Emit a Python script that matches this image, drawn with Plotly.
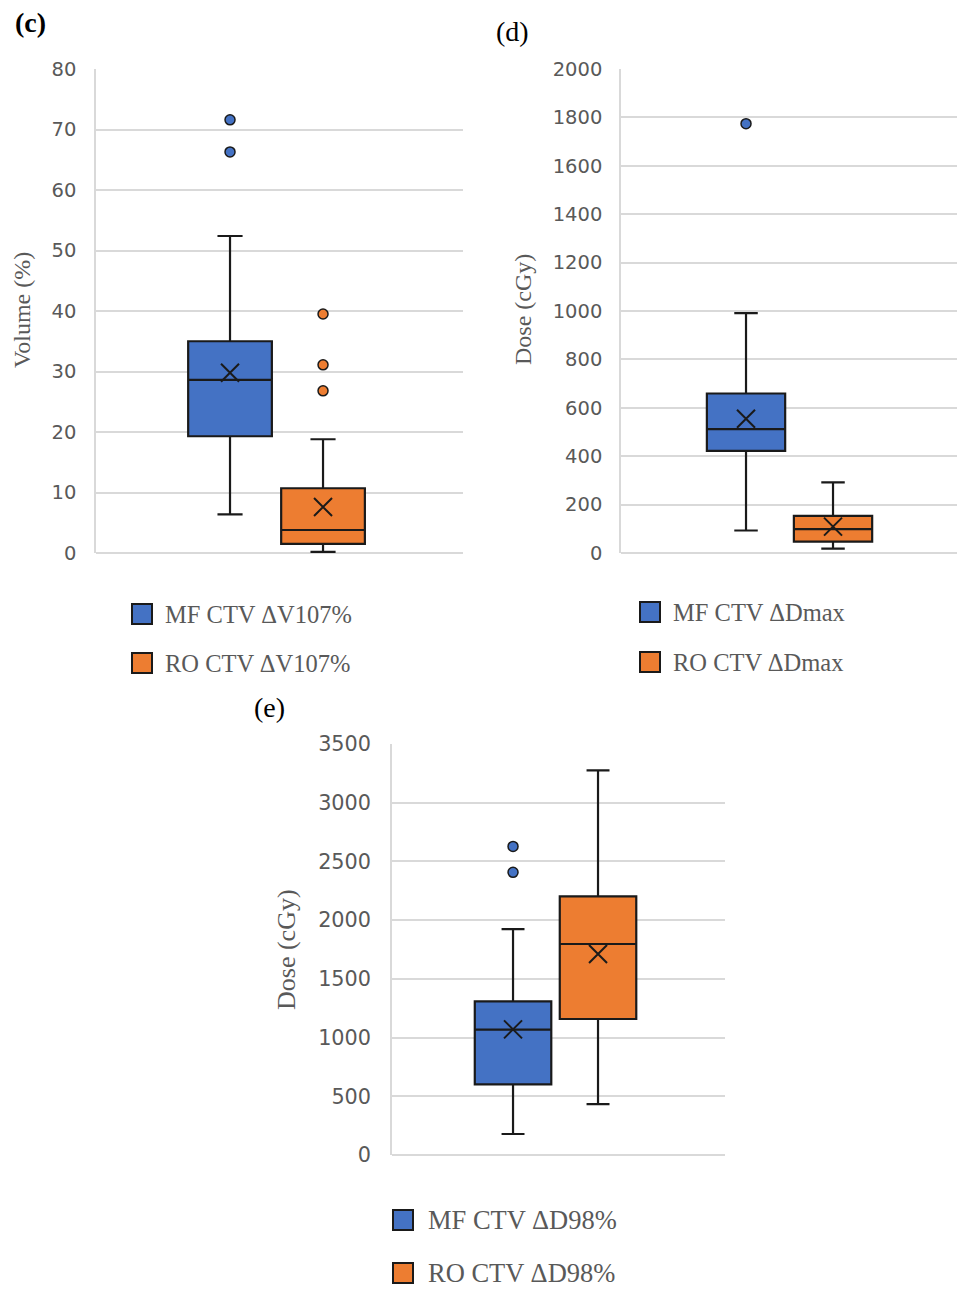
import plotly.graph_objects as go

# ---- data -----------------------------------------------------------------
series_names = ["MF", "RO"]
fill_colors = ["#4472C4", "#ED7D31"]
edge_color = "#1a1a1a"

# (c) CTV ΔV107% (Volume %)
c_q1 = [19.3, 1.5]
c_median = [28.6, 3.8]
c_q3 = [35.0, 10.7]
c_low = [6.4, 0.2]
c_high = [52.4, 18.8]
c_mean = [29.8, 7.6]
c_outliers_mf = [71.6, 66.3]
c_outliers_ro = [39.5, 31.1, 26.8]
c_labels = ["MF CTV ΔV107%", "RO CTV ΔV107%"]

# (d) CTV ΔDmax (Dose cGy)
d_q1 = [422, 47]
d_median = [512, 99]
d_q3 = [659, 153]
d_low = [93, 18]
d_high = [991, 292]
d_mean = [555, 109]
d_outliers_mf = [1774]
d_outliers_ro = []
d_labels = ["MF CTV ΔDmax", "RO CTV ΔDmax"]

# (e) CTV ΔD98% (Dose cGy)
e_q1 = [602, 1158]
e_median = [1067, 1797]
e_q3 = [1309, 2203]
e_low = [179, 434]
e_high = [1924, 3276]
e_mean = [1070, 1712]
e_outliers_mf = [2628, 2407]
e_outliers_ro = []
e_labels = ["MF CTV ΔD98%", "RO CTV ΔD98%"]

# ---- figure ---------------------------------------------------------------
W, H = 957, 1289
fig = go.Figure()

GRID = "#d9d9d9"
TICK_FONT = "DejaVu Sans"
SERIF = "Liberation Serif"
TEXT_GRAY = "#595959"


def px_x(p):
    return p / W


def px_y(p):
    return 1 - p / H


def add_panel(xname, yname, q1, med, q3, low, high, mean, outliers):
    for i, name in enumerate(series_names):
        fig.add_trace(go.Box(
            x=[i], q1=[q1[i]], median=[med[i]], q3=[q3[i]],
            lowerfence=[low[i]], upperfence=[high[i]],
            name=name, width=0.9, whiskerwidth=0.3,
            fillcolor=fill_colors[i],
            line=dict(color=edge_color, width=2.2),
            boxpoints=False, showlegend=False,
            xaxis=xname, yaxis=yname,
        ))
        if outliers[i]:
            fig.add_trace(go.Scatter(
                x=[i] * len(outliers[i]), y=outliers[i], mode="markers",
                marker=dict(symbol="circle", size=10, color=fill_colors[i],
                            line=dict(color=edge_color, width=1.5)),
                showlegend=False, xaxis=xname, yaxis=yname,
            ))
        fig.add_trace(go.Scatter(
            x=[i], y=[mean[i]], mode="markers",
            marker=dict(symbol="x-thin", size=18,
                        line=dict(color=edge_color, width=2)),
            showlegend=False, xaxis=xname, yaxis=yname,
        ))


add_panel("x", "y", c_q1, c_median, c_q3, c_low, c_high, c_mean,
          [c_outliers_mf, c_outliers_ro])
add_panel("x2", "y2", d_q1, d_median, d_q3, d_low, d_high, d_mean,
          [d_outliers_mf, d_outliers_ro])
add_panel("x3", "y3", e_q1, e_median, e_q3, e_low, e_high, e_mean,
          [e_outliers_mf, e_outliers_ro])


def xaxis(domain, rng, anchor):
    return dict(domain=domain, range=rng, anchor=anchor, showgrid=False,
                zeroline=False, showline=False, showticklabels=False,
                ticks="", fixedrange=True, automargin=False)


def yaxis(domain, rng, dtick, anchor, size, standoff):
    return dict(domain=domain, range=rng, dtick=dtick, anchor=anchor,
                showgrid=True, gridcolor=GRID, gridwidth=1.5,
                zeroline=True, zerolinecolor=GRID, zerolinewidth=1.5,
                showline=True, linecolor=GRID, linewidth=1.5,
                ticks="", ticklabelstandoff=standoff, automargin=False,
                tickfont=dict(family=TICK_FONT, size=size, color=TEXT_GRAY))


fig.update_layout(
    width=W, height=H,
    margin=dict(l=0, r=0, t=0, b=0, pad=0, autoexpand=False),
    paper_bgcolor="white", plot_bgcolor="white",
    xaxis=xaxis([px_x(96), px_x(463)], [-1.441, 2.505], "y"),
    yaxis=yaxis([px_y(553), px_y(69)], [0, 80], 10, "x", 19.5, 14),
    xaxis2=xaxis([px_x(621), px_x(957)], [-1.437, 2.425], "y2"),
    yaxis2=yaxis([px_y(553), px_y(69)], [0, 2000], 200, "x2", 19.5, 13),
    xaxis3=xaxis([px_x(392), px_x(725)], [-1.424, 2.494], "y3"),
    yaxis3=yaxis([px_y(1155), px_y(744)], [0, 3500], 500, "x3", 20.8, 15),
)

annotations = []

# panel letters
for txt, x, y, bold in [("(c)", 13, 22, True), ("(d)", 494, 32, False),
                        ("(e)", 252, 708, False)]:
    annotations.append(dict(
        text=f"<b>{txt}</b>" if bold else txt, x=px_x(x), y=px_y(y),
        xref="paper", yref="paper", xanchor="left", yanchor="middle",
        showarrow=False, font=dict(family=SERIF, size=28, color="black")))

# y-axis titles
for txt, x, y, size in [("Volume (%)", 22, 310, 24), ("Dose (cGy)", 523, 310, 24),
                        ("Dose (cGy)", 286, 950, 26)]:
    annotations.append(dict(
        text=txt, x=px_x(x), y=px_y(y), xref="paper", yref="paper",
        xanchor="center", yanchor="middle", textangle=-90, showarrow=False,
        font=dict(family=SERIF, size=size, color=TEXT_GRAY)))

# legends
shapes = []
legend_specs = [
    (c_labels, 132, [614, 663], 24.5, 31),
    (d_labels, 640, [612, 662], 24.5, 31),
    (e_labels, 393, [1220, 1273], 26.5, 33),
]
for labels, x0, ys, size, gap in legend_specs:
    for i, (lab, yc) in enumerate(zip(labels, ys)):
        shapes.append(dict(
            type="rect", xref="paper", yref="paper",
            x0=px_x(x0), x1=px_x(x0 + 20), y0=px_y(yc + 10), y1=px_y(yc - 10),
            fillcolor=fill_colors[i], line=dict(color=edge_color, width=2)))
        annotations.append(dict(
            text=lab, x=px_x(x0 + gap), y=px_y(yc), xref="paper", yref="paper",
            xanchor="left", yanchor="middle", showarrow=False,
            font=dict(family=SERIF, size=size, color=TEXT_GRAY)))

fig.update_layout(annotations=annotations, shapes=shapes)

fig.write_html("out.html")
